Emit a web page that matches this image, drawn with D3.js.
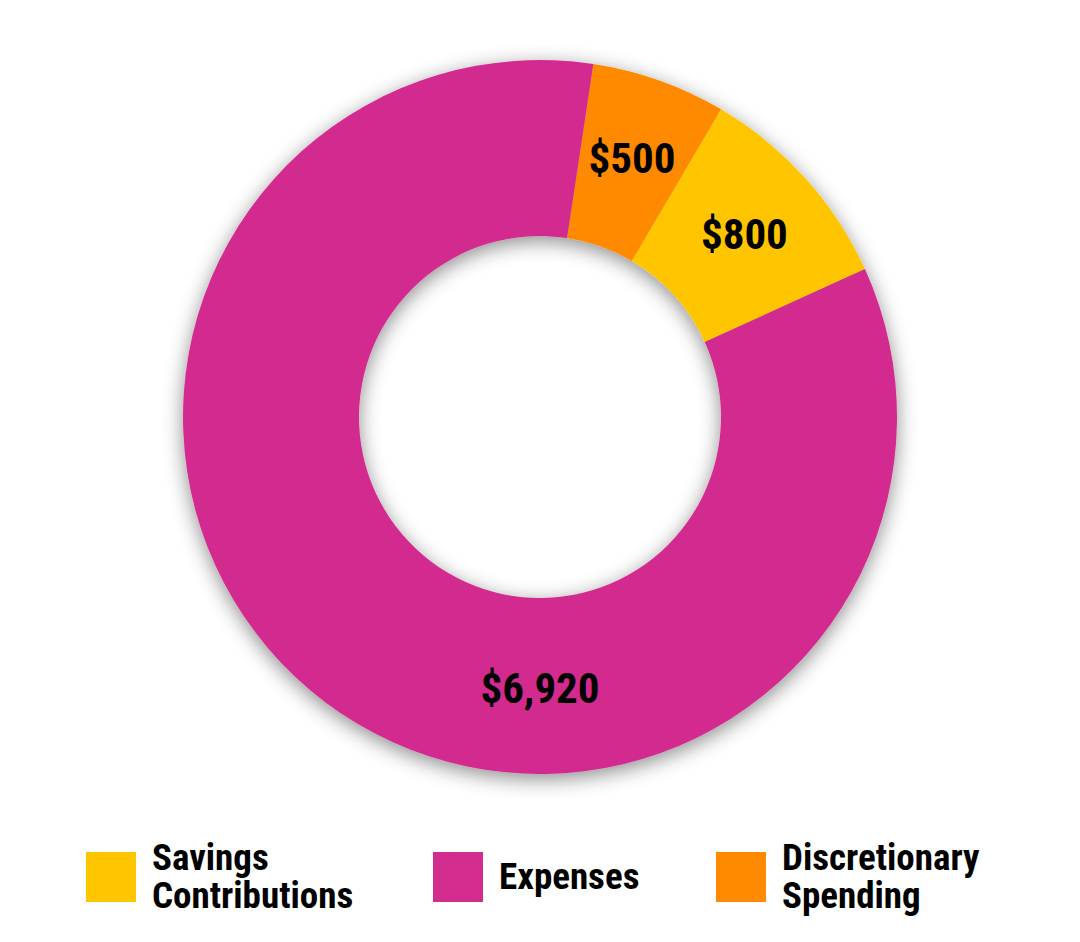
<!DOCTYPE html>
<html>

<head>
  <meta charset="utf-8" />
  <title>Budget donut</title>
  <style>
    body {
      margin: 0;
      background: #fff;
    }

    text {
      font-family: "Roboto Condensed", Roboto, "Liberation Sans", sans-serif;
      font-weight: bold;
      fill: #000;
    }
  </style>
  <script src="https://cdnjs.cloudflare.com/ajax/libs/d3/7.8.5/d3.min.js"></script>
</head>

<body>
  <div id="chartArea"></div>
  <script>
    // data, in drawing order (clockwise from the top)
    var categories = ['Discretionary Spending', 'Savings Contributions', 'Expenses'];
    var values = [500, 800, 6920];
    var valueLabels = ['$500', '$800', '$6,920'];
    var colors = ['#FF8A00', '#FFC600', '#D32C8F'];
    // legend order
    var legendOrder = ['Savings Contributions', 'Expenses', 'Discretionary Spending'];
    var legendLines = [['Savings', 'Contributions'], ['Expenses'], ['Discretionary', 'Spending']];

    var w = 1080,
      h = 942,
      cx = 540,
      cy = 417,
      outerR = 357,
      innerR = 181;

    var legendPos = [86, 433, 716];

    var svg = d3.select('#chartArea').append('svg')
      .attr('width', w)
      .attr('height', h);

    var defs = svg.append('defs');
    defs.append('filter')
      .attr('id', 'shadow')
      .attr('x', '-20%').attr('y', '-20%')
      .attr('width', '140%').attr('height', '140%')
      .append('feDropShadow')
      .attr('dx', 0)
      .attr('dy', 5)
      .attr('stdDeviation', 10)
      .attr('flood-color', '#000')
      .attr('flood-opacity', 0.45);

    var color = d3.scaleOrdinal().domain(categories).range(colors);

    var pie = d3.pie()
      .sort(null)
      .startAngle(0.15)
      .endAngle(0.15 + 2 * Math.PI)
      .value(d => d.value);

    var arc = d3.arc()
      .innerRadius(innerR)
      .outerRadius(outerR);

    var labelArc = d3.arc()
      .innerRadius(innerR + 6)
      .outerRadius(outerR + 6);

    var data = categories.map((c, i) => ({ name: c, value: values[i], label: valueLabels[i] }));
    var arcs = pie(data);

    var g = svg.append('g')
      .attr('transform', 'translate(' + cx + ',' + cy + ')');

    g.append('g')
      .attr('filter', 'url(#shadow)')
      .selectAll('path')
      .data(arcs)
      .enter()
      .append('path')
      .attr('d', arc)
      .attr('fill', d => color(d.data.name));

    // big slice label sits at the bottom of the ring, others at centroids
    g.selectAll('text.val')
      .data(arcs)
      .enter()
      .append('text')
      .attr('class', 'val')
      .attr('transform', function (d) {
        var p;
        if (d.data.name === 'Expenses') {
          p = [0, (innerR + outerR) / 2 + 2];
        } else {
          p = labelArc.centroid(d);
        }
        return 'translate(' + p[0] + ',' + p[1] + ')';
      })
      .attr('text-anchor', 'middle')
      .attr('dy', '0.36em')
      .style('font-size', '43px')
      .text(d => d.data.label);

    // legend
    var legend = svg.selectAll('g.legend')
      .data(legendOrder)
      .enter()
      .append('g')
      .attr('class', 'legend')
      .attr('transform', (d, i) => 'translate(' + legendPos[i] + ',852)');

    legend.append('rect')
      .attr('width', 50)
      .attr('height', 50)
      .attr('fill', d => color(d));

    legend.each(function (d, i) {
      var lines = legendLines[i];
      var t = d3.select(this).append('text')
        .style('font-size', '37px');
      var startY = lines.length === 1 ? 37 : 18;
      lines.forEach(function (ln, j) {
        t.append('tspan')
          .attr('x', 66)
          .attr('y', startY + j * 38)
          .text(ln);
      });
    });
  </script>
</body>

</html>
